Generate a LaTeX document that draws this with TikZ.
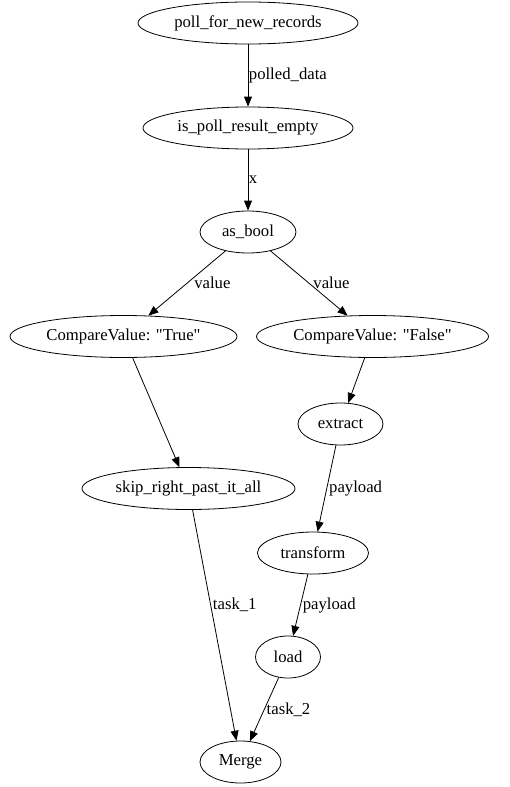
\documentclass[tikz,border=0pt]{standalone}
\usepackage{fontspec}
\setmainfont{Liberation Serif}
\usetikzlibrary{shapes.geometric,arrows.meta}

\begin{document}
\begin{tikzpicture}[
  x=1pt, y=-1pt,
  line width=0.8pt,
  >={Triangle[length=10pt,width=8pt]},
  task/.style={draw, ellipse, minimum height=42pt, inner xsep=-40pt, inner ysep=0pt,
    font=\fontsize{16.7}{20}\selectfont},
  lbl/.style={right, inner sep=2pt, font=\fontsize{16.7}{20}\selectfont},
]

\useasboundingbox (0,0) rectangle (509,787);

\node [task, minimum width=220pt] (poll) at (248,23) {poll\_for\_new\_records};
\node [task, minimum width=210pt] (empty) at (248,128) {is\_poll\_result\_empty};
\node [task, minimum width=96pt] (asbool) at (248,232) {as\_bool};
\node [task, minimum width=227pt] (cvtrue) at (123.5,336.5) {CompareValue: \textquotedbl True\textquotedbl};
\node [task, minimum width=232pt] (cvfalse) at (372.5,336.5) {CompareValue: \textquotedbl False\textquotedbl};
\node [task, minimum width=85pt] (extract) at (340.5,424) {extract};
\node [task, minimum width=213pt] (skip) at (188.5,488.5) {skip\_right\_past\_it\_all};
\node [task, minimum width=111pt] (transform) at (313,553) {transform};
\node [task, minimum width=65pt] (load) at (288,657) {load};
\node [task, minimum width=81pt] (merge) at (240.5,762) {Merge};

\draw [->] (poll) -- node [lbl, inner sep=0.5pt] {polled\_data} (empty);
\draw [->] (empty) -- node [lbl, inner sep=0.5pt] {x} (asbool);
\draw [->] (asbool) -- node [lbl, xshift=5pt] {value} (cvtrue);
\draw [->] (asbool) -- node [lbl, xshift=2pt] {value} (cvfalse);
\draw [->] (cvtrue) -- (skip);
\draw [->] (cvfalse) -- (extract);
\draw [->] (extract) -- node [lbl] {payload} (transform);
\draw [->] (skip) -- node [lbl, pos=0.41] {task\_1} (merge);
\draw [->] (transform) -- node [lbl] {payload} (load);
\draw [->] (load) -- node [lbl] {task\_2} (merge);

\end{tikzpicture}
\end{document}
